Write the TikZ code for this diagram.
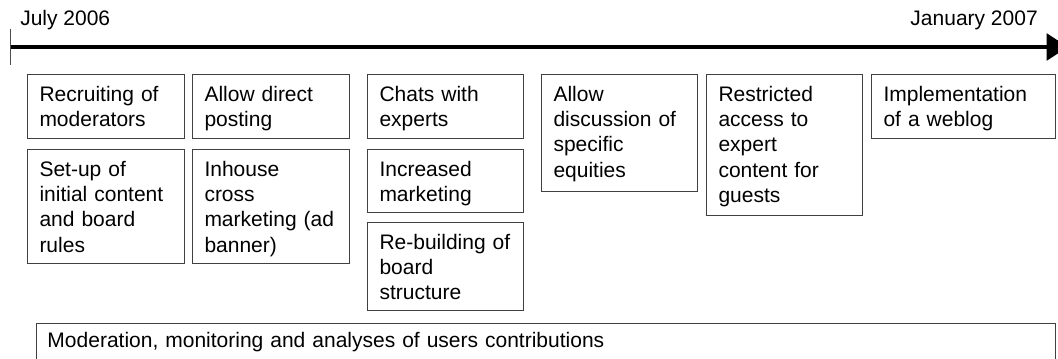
\documentclass[tikz,border=0pt]{standalone}
\usepackage{fontspec}
\setmainfont{Liberation Sans}
\usetikzlibrary{arrows.meta}
\begin{document}
\begin{tikzpicture}[x=0.75pt,y=-0.75pt,
  txt/.style={font=\fontsize{15.75}{19}\selectfont, inner sep=0pt},
  stage/.style={draw=black!75, line width=0.75pt, anchor=north west,
    align=left, inner xsep=9pt, inner ysep=0pt, text height=20pt,
    font=\fontsize{15.75}{19}\selectfont},
  narrow/.style={stage, text width=99.75pt},
  narrowb/.style={stage, text width=99pt},
  wide/.style={stage, text width=120pt}]
\clip (0,0) rectangle (1058,359);

% time axis
\coordinate (t0) at (10,47);
\coordinate (t1) at (1068,47);
\coordinate (k0) at (10,29);
\coordinate (k1) at (10,65);
\draw[line width=2.5pt, -{Triangle[length=16pt,width=20pt]}] (t0) -- (t1);
\draw[line width=0.75pt, black!70] (k0) -- (k1);
\node[txt, anchor=base west] (start) at (20,26) {July 2006};
\node[txt, anchor=base east] (end) at (1038,26) {January 2007};

% first column
\node[narrow, text depth=28pt] (a1) at (27,74) {Recruiting of\\moderators};
\node[narrow, text depth=65.5pt] (a2) at (27,149) {Set-up of\\initial content\\and board\\rules};

% second column
\node[narrow, text depth=28pt] (b1) at (192,74) {Allow direct\\posting};
\node[narrow, text depth=65.5pt] (b2) at (192,149) {Inhouse\\cross\\marketing (ad\\banner)};

% third column
\node[narrowb, text depth=28pt] (c1) at (367,74) {Chats with\\experts};
\node[narrowb, text depth=27.25pt] (c2) at (367,149) {Increased\\marketing};
\node[narrowb, text depth=46pt] (c3) at (367,222) {Re-building of\\board\\structure};

% fourth to sixth column
\node[narrowb, text depth=67.75pt] (d1) at (541,74) {Allow\\discussion of\\specific\\equities};
\node[narrowb, text depth=85.75pt] (e1) at (706,74) {Restricted\\access to\\expert\\content for\\guests};
\node[wide, text depth=28pt] (f1) at (871,74) {Implementation\\of a weblog};

% continuous activity
\node[stage, inner xsep=8.25pt, text width=747.75pt, text height=18pt, text depth=24.75pt] (m) at (36,323)
  {Moderation, monitoring and analyses of users contributions};
\end{tikzpicture}
\end{document}
